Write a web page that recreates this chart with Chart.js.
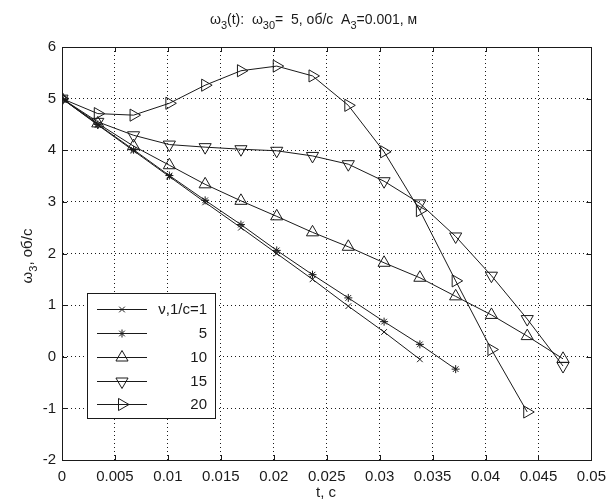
<!DOCTYPE html>
<html>
<head>
<meta charset="utf-8">
<script src="https://cdn.jsdelivr.net/npm/chart.js@4/dist/chart.umd.min.js"></script>
<style>
  html, body { margin: 0; padding: 0; background: #fff; }
  #wrap { width: 614px; height: 500px; }
</style>
</head>
<body>
<div id="wrap"><canvas id="chart" width="614" height="500"></canvas></div>
<script>
// time points, s
const tValues = [0, 0.00338, 0.00676, 0.01014, 0.01352, 0.0169, 0.02028, 0.02366, 0.02704, 0.03042, 0.0338, 0.03718, 0.04056, 0.04394, 0.04732];

// omega3 for each nu, rev/s
const nu1  = [5, 4.49, 3.99, 3.49, 2.99, 2.50, 2.00, 1.50, 0.98, 0.48, -0.05];
const nu5  = [5, 4.50, 4.01, 3.51, 3.03, 2.56, 2.06, 1.59, 1.14, 0.68, 0.24, -0.24];
const nu10 = [5, 4.52, 4.08, 3.71, 3.34, 3.02, 2.72, 2.41, 2.13, 1.82, 1.53, 1.17, 0.81, 0.40, -0.04];
const nu15 = [5, 4.55, 4.29, 4.11, 4.06, 4.02, 3.99, 3.89, 3.73, 3.40, 2.97, 2.33, 1.57, 0.73, -0.18];
const nu20 = [5, 4.71, 4.68, 4.91, 5.26, 5.54, 5.63, 5.44, 4.87, 3.97, 2.83, 1.47, 0.14, -1.07];

const legendLabels = ['\u03bd,1/c=1', '5', '10', '15', '20'];
const xTickLabels = ['0', '0.005', '0.01', '0.015', '0.02', '0.025', '0.03', '0.035', '0.04', '0.045', '0.05'];
const yTickLabels = ['-2', '-1', '0', '1', '2', '3', '4', '5', '6'];

const FONT = '"Liberation Sans", Arial, sans-serif';
const INK = '#1a1a1a';

function pts(ys){ return ys.map((y, i) => ({ x: tValues[i], y })); }

// marker look per series: style, radius, rotation
const markers = [
  { pointStyle: 'crossRot', radius: 4,   rotation: 0 },
  { pointStyle: 'star',     radius: 4,   rotation: 0 },
  { pointStyle: 'triangle', radius: 7,   rotation: 0 },
  { pointStyle: 'triangle', radius: 7,   rotation: 180 },
  { pointStyle: 'triangle', radius: 7,   rotation: 90 }
];
const series = [nu1, nu5, nu10, nu15, nu20];

const datasets = series.map((ys, k) => ({
  label: legendLabels[k],
  data: pts(ys),
  borderColor: INK,
  backgroundColor: 'rgba(0,0,0,0)',
  borderWidth: 1,
  pointStyle: markers[k].pointStyle,
  pointRadius: markers[k].radius,
  pointRotation: markers[k].rotation,
  pointBorderColor: INK,
  pointBackgroundColor: 'rgba(0,0,0,0)',
  pointBorderWidth: 1,
  pointHoverRadius: markers[k].radius,
  tension: 0,
  fill: false
}));

// text with subscripts, drawn at (x, y) baseline
function drawRich(ctx, parts, x, y, size){
  let cx = x;
  for (const p of parts){
    const fs = p.sub ? Math.round(size * 0.75) : size;
    ctx.font = fs + 'px ' + FONT;
    ctx.fillText(p.t, cx, p.sub ? y + size * 0.35 : y);
    cx += ctx.measureText(p.t).width;
  }
  return cx - x;
}
function richWidth(ctx, parts, size){
  let w = 0;
  for (const p of parts){
    ctx.font = (p.sub ? Math.round(size * 0.75) : size) + 'px ' + FONT;
    w += ctx.measureText(p.t).width;
  }
  return w;
}

const decor = {
  id: 'decor',
  afterDraw(chart){
    const ctx = chart.ctx;
    const a = chart.chartArea;
    const xs = chart.scales.x, ys = chart.scales.y;
    ctx.save();
    // box
    ctx.strokeStyle = INK;
    ctx.lineWidth = 1;
    ctx.setLineDash([]);
    ctx.strokeRect(Math.round(a.left) + 0.5, Math.round(a.top) + 0.5, Math.round(a.right - a.left), Math.round(a.bottom - a.top));
    // inward ticks on all sides
    const tl = 5;
    ctx.beginPath();
    xs.ticks.forEach(t => {
      const px = Math.round(xs.getPixelForValue(t.value)) + 0.5;
      ctx.moveTo(px, a.bottom); ctx.lineTo(px, a.bottom - tl);
      ctx.moveTo(px, a.top); ctx.lineTo(px, a.top + tl);
    });
    ys.ticks.forEach(t => {
      const py = Math.round(ys.getPixelForValue(t.value)) + 0.5;
      ctx.moveTo(a.left, py); ctx.lineTo(a.left + tl, py);
      ctx.moveTo(a.right, py); ctx.lineTo(a.right - tl, py);
    });
    ctx.stroke();

    ctx.fillStyle = INK;
    ctx.textAlign = 'left';
    ctx.textBaseline = 'alphabetic';
    // title
    const title = [
      { t: '\u03c9' }, { t: '3', sub: true }, { t: '(t):  \u03c9' }, { t: '30', sub: true },
      { t: '=  5, \u043e\u0431/\u0441  A' }, { t: '3', sub: true }, { t: '=0.001, \u043c' }
    ];
    drawRich(ctx, title, 210, 24, 14);

    // x axis title
    ctx.font = '15px ' + FONT;
    ctx.textAlign = 'center';
    ctx.fillText('t, \u0441', 326, 497);

    // y axis title, rotated
    const ytitle = [{ t: '\u03c9' }, { t: '3', sub: true }, { t: ', \u043e\u0431/\u0441' }];
    ctx.save();
    ctx.translate(32, 256);
    ctx.rotate(-Math.PI / 2);
    ctx.textAlign = 'left';
    drawRich(ctx, ytitle, -richWidth(ctx, ytitle, 15) / 2, 0, 15);
    ctx.restore();

    // legend box
    const lx = 87, ly = 293, lw = 128, lh = 125;
    ctx.fillStyle = '#fff';
    ctx.fillRect(lx, ly, lw, lh);
    ctx.strokeStyle = INK;
    ctx.strokeRect(lx + 0.5, ly + 0.5, lw, lh);
    const rowY = [309, 333, 357, 381, 404];
    chart.data.datasets.forEach((ds, k) => {
      const y = rowY[k] + 0.5;
      ctx.beginPath();
      ctx.moveTo(97, y); ctx.lineTo(147, y);
      ctx.strokeStyle = INK; ctx.lineWidth = 1;
      ctx.stroke();
      if (Chart.helpers && Chart.helpers.drawPoint) {
        ctx.save();
        ctx.strokeStyle = INK; ctx.fillStyle = 'rgba(0,0,0,0)';
        Chart.helpers.drawPoint(ctx, { pointStyle: ds.pointStyle, radius: ds.pointRadius, rotation: ds.pointRotation, borderWidth: 1 }, 122, y);
        ctx.restore();
      }
      ctx.fillStyle = INK;
      ctx.font = '15px ' + FONT;
      ctx.textAlign = 'right';
      ctx.textBaseline = 'middle';
      ctx.fillText(ds.label, 207, rowY[k] + 1);
    });
    ctx.restore();
  }
};

new Chart(document.getElementById('chart'), {
  type: 'line',
  data: { datasets },
  options: {
    responsive: false,
    animation: false,
    events: [],
    layout: { padding: { top: 47, right: 15, left: 0, bottom: 0 } },
    plugins: { legend: { display: false }, title: { display: false }, tooltip: { enabled: false } },
    scales: {
      x: {
        type: 'linear', min: 0, max: 0.05,
        afterFit(s){ s.height = 40; },
        ticks: {
          stepSize: 0.005, color: INK, padding: 8,
          font: { family: FONT, size: 15 },
          maxRotation: 0, autoSkip: false,
          callback: (v, i) => xTickLabels[i]
        },
        grid: { color: INK, lineWidth: 1, drawTicks: false },
        border: { display: true, color: INK, width: 1, dash: [1, 3] }
      },
      y: {
        type: 'linear', min: -2, max: 6,
        afterFit(s){ s.width = 62; },
        ticks: {
          stepSize: 1, color: INK, padding: 6,
          font: { family: FONT, size: 15 },
          callback: (v, i) => yTickLabels[i]
        },
        grid: { color: INK, lineWidth: 1, drawTicks: false },
        border: { display: true, color: INK, width: 1, dash: [1, 3] }
      }
    }
  },
  plugins: [decor]
});
</script>
</body>
</html>
